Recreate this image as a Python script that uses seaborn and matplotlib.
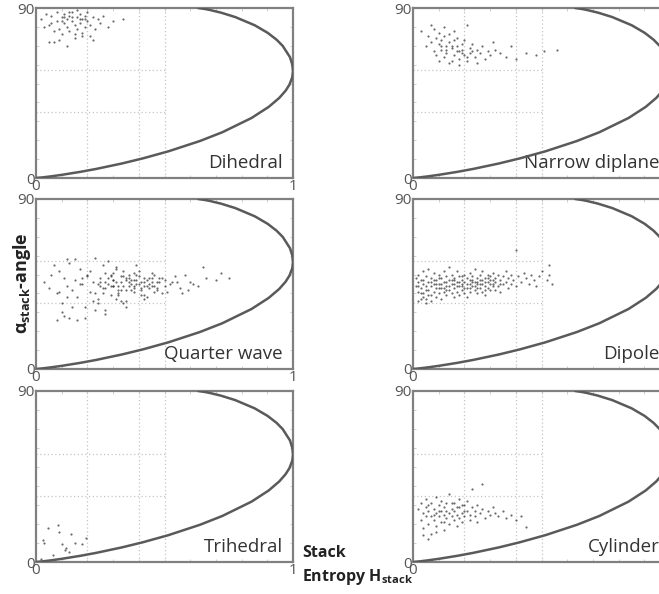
import numpy as np
import pandas as pd
import matplotlib
matplotlib.use("Agg")
import matplotlib.pyplot as plt
import seaborn as sns

sns.set_style("white")
plt.rcParams["font.family"] = ["Open Sans", "DejaVu Sans"]
plt.rcParams["mathtext.fontset"] = "custom"
plt.rcParams["mathtext.rm"] = "Open Sans:bold"
plt.rcParams["mathtext.it"] = "Open Sans:bold"
plt.rcParams["mathtext.bf"] = "Open Sans:bold"

# H-alpha feasibility boundary
curve_h = [0.0, 0.0262, 0.0568, 0.1002, 0.1727, 0.2337, 0.3347, 0.4165, 0.5153, 0.6373,
           0.7248, 0.8388, 0.9057, 0.9464, 0.9713, 0.9863, 0.9973, 1.0, 0.9974, 0.9883,
           0.9602, 0.9359, 0.9011, 0.8509, 0.7752, 0.7199, 0.6752, 0.6563, 0.6309]
curve_alpha = [0, 0.34, 0.85, 1.67, 3.26, 4.79, 7.70, 10.41, 14.13, 19.56,
               24.21, 31.78, 37.67, 42.38, 46.23, 49.44, 53.37, 56.5, 60.03, 63.95,
               69.9, 73.25, 76.89, 80.87, 85.21, 87.54, 89.01, 89.5, 90.0]

# zone lines
grid_h = [0.2, 0.4, 0.5]
grid_alpha = [35, 57]

dihedral = [(0.02, 84), (0.04, 87), (0.05, 81), (0.06, 86), (0.07, 72), (0.08, 83), (0.08, 88),
            (0.09, 79), (0.10, 85), (0.10, 76), (0.11, 82), (0.11, 87), (0.12, 80), (0.12, 84),
            (0.13, 86), (0.13, 78), (0.14, 83), (0.14, 88), (0.15, 81), (0.15, 76), (0.16, 85),
            (0.16, 79), (0.17, 87), (0.17, 82), (0.18, 84), (0.18, 77), (0.19, 86), (0.19, 80),
            (0.20, 83), (0.20, 88), (0.21, 81), (0.21, 75), (0.22, 85), (0.23, 79), (0.24, 84),
            (0.25, 82), (0.26, 86), (0.28, 80), (0.30, 83), (0.34, 84), (0.05, 72), (0.09, 73),
            (0.12, 70), (0.15, 74), (0.18, 75), (0.22, 73), (0.13, 88), (0.07, 78), (0.16, 89),
            (0.11, 85), (0.03, 80), (0.14, 85), (0.17, 84), (0.10, 83), (0.19, 84), (0.06, 82)]

narrow_diplane = [(0.03, 78), (0.05, 70), (0.06, 75), (0.07, 72), (0.08, 79), (0.08, 67),
                  (0.09, 74), (0.09, 65), (0.10, 71), (0.10, 77), (0.11, 68), (0.11, 73),
                  (0.12, 75), (0.12, 64), (0.13, 70), (0.13, 66), (0.14, 72), (0.14, 76),
                  (0.15, 62), (0.15, 69), (0.16, 73), (0.16, 65), (0.17, 70), (0.17, 74),
                  (0.18, 67), (0.18, 63), (0.19, 71), (0.19, 68), (0.20, 65), (0.20, 73),
                  (0.21, 81), (0.21, 62), (0.22, 69), (0.22, 66), (0.23, 71), (0.24, 64),
                  (0.25, 68), (0.26, 66), (0.27, 70), (0.28, 63), (0.29, 67), (0.30, 65),
                  (0.31, 72), (0.32, 68), (0.34, 66), (0.36, 64), (0.38, 70), (0.40, 63),
                  (0.44, 66), (0.48, 65), (0.51, 67), (0.56, 68), (0.10, 62), (0.14, 61),
                  (0.18, 60), (0.21, 64), (0.25, 61), (0.12, 80), (0.16, 78), (0.07, 81),
                  (0.13, 68), (0.15, 70), (0.17, 67), (0.19, 66), (0.11, 70), (0.23, 67)]

quarter_wave = [(0.03, 46), (0.05, 43), (0.06, 50), (0.08, 40), (0.09, 52), (0.10, 35), (0.11, 48),
                (0.12, 44), (0.13, 56), (0.14, 42), (0.15, 47), (0.16, 38), (0.17, 53), (0.18, 45),
                (0.19, 33), (0.20, 50), (0.21, 41), (0.22, 46), (0.23, 59), (0.24, 37), (0.25, 48),
                (0.26, 43), (0.27, 51), (0.28, 45), (0.29, 39), (0.30, 47), (0.31, 54), (0.32, 42),
                (0.33, 49), (0.34, 44), (0.35, 36), (0.36, 50), (0.37, 45), (0.38, 41), (0.39, 47),
                (0.40, 52), (0.41, 43), (0.42, 46), (0.43, 38), (0.44, 48), (0.45, 44), (0.46, 50),
                (0.47, 42), (0.48, 46), (0.49, 40), (0.50, 47), (0.52, 45), (0.54, 49), (0.56, 43),
                (0.58, 50), (0.60, 46), (0.63, 44), (0.66, 48), (0.70, 47), (0.75, 48),
                (0.07, 55), (0.10, 30), (0.12, 38), (0.15, 58), (0.17, 45), (0.19, 27), (0.21, 52),
                (0.23, 40), (0.25, 44), (0.27, 31), (0.29, 49), (0.31, 53), (0.33, 36), (0.35, 47),
                (0.37, 42), (0.39, 55), (0.41, 39), (0.43, 44), (0.45, 51), (0.47, 43), (0.49, 48),
                (0.51, 41), (0.55, 46), (0.59, 42),
                (0.13, 27), (0.16, 26), (0.20, 49), (0.24, 35), (0.28, 57), (0.30, 44), (0.32, 40),
                (0.34, 52), (0.36, 46), (0.38, 43), (0.40, 49), (0.42, 37), (0.44, 45), (0.46, 41),
                (0.48, 48), (0.50, 44), (0.53, 46), (0.57, 40), (0.61, 45),
                (0.09, 41), (0.12, 58), (0.14, 33), (0.18, 48), (0.22, 36), (0.26, 55), (0.30, 47),
                (0.34, 35), (0.38, 51), (0.42, 39), (0.46, 44), (0.35, 33), (0.31, 37), (0.27, 29),
                (0.23, 31),
                (0.33, 46), (0.36, 44), (0.39, 45), (0.42, 48), (0.45, 46), (0.30, 44), (0.27, 46),
                (0.24, 45), (0.35, 48), (0.38, 47), (0.41, 42), (0.44, 43), (0.29, 50), (0.32, 39),
                (0.26, 40), (0.08, 26), (0.11, 28), (0.65, 54), (0.72, 51),
                (0.28, 48), (0.31, 46), (0.34, 49), (0.37, 47), (0.40, 45), (0.43, 47), (0.32, 44),
                (0.35, 42), (0.38, 44), (0.41, 46), (0.29, 44), (0.33, 42), (0.36, 48), (0.39, 50),
                (0.42, 44), (0.45, 48), (0.47, 46), (0.25, 46), (0.27, 43), (0.30, 51)]

dipole = [(0.01, 44), (0.01, 48), (0.02, 41), (0.02, 46), (0.02, 50), (0.03, 37), (0.03, 43),
          (0.03, 47), (0.04, 52), (0.04, 40), (0.04, 45), (0.05, 35), (0.05, 49), (0.05, 42),
          (0.06, 46), (0.06, 39), (0.06, 53), (0.07, 44), (0.07, 36), (0.07, 48), (0.08, 41),
          (0.08, 51), (0.08, 45), (0.09, 38), (0.09, 47), (0.09, 43), (0.10, 50), (0.10, 40),
          (0.10, 45), (0.11, 37), (0.11, 48), (0.11, 43), (0.12, 52), (0.12, 46), (0.12, 41),
          (0.13, 39), (0.13, 44), (0.13, 49), (0.14, 42), (0.14, 47), (0.14, 54), (0.15, 40),
          (0.15, 45), (0.15, 50), (0.16, 38), (0.16, 43), (0.16, 48), (0.17, 46), (0.17, 41),
          (0.17, 52), (0.18, 44), (0.18, 39), (0.18, 49), (0.19, 47), (0.19, 42), (0.19, 45),
          (0.20, 50), (0.20, 40), (0.20, 46), (0.21, 43), (0.21, 48), (0.21, 38), (0.22, 45),
          (0.22, 51), (0.22, 41), (0.23, 47), (0.23, 44), (0.23, 49), (0.24, 42), (0.24, 46),
          (0.24, 53), (0.25, 40), (0.25, 45), (0.25, 48), (0.26, 43), (0.26, 50), (0.26, 47),
          (0.27, 41), (0.27, 45), (0.27, 52), (0.28, 44), (0.28, 48), (0.28, 39), (0.29, 46),
          (0.29, 50), (0.29, 43), (0.30, 47), (0.30, 42), (0.30, 49), (0.31, 45), (0.31, 51),
          (0.31, 44), (0.32, 48), (0.32, 42), (0.32, 46), (0.33, 50), (0.33, 44), (0.34, 47),
          (0.34, 41), (0.35, 49), (0.35, 45), (0.36, 52), (0.36, 46), (0.37, 43), (0.37, 48),
          (0.38, 50), (0.38, 45), (0.39, 47), (0.40, 44), (0.40, 63), (0.41, 49), (0.42, 46),
          (0.43, 51), (0.44, 48), (0.45, 45), (0.46, 50), (0.47, 47), (0.48, 44), (0.49, 49),
          (0.50, 52), (0.52, 47), (0.53, 50), (0.54, 45), (0.53, 55),
          (0.05, 44), (0.08, 47), (0.11, 45), (0.14, 44), (0.17, 44), (0.20, 43), (0.23, 46),
          (0.26, 45), (0.29, 48), (0.12, 43), (0.15, 47), (0.18, 46), (0.21, 45), (0.24, 44),
          (0.27, 47), (0.30, 45), (0.06, 42), (0.09, 45), (0.10, 48), (0.13, 46), (0.16, 45),
          (0.19, 44), (0.22, 47), (0.25, 43), (0.28, 46), (0.03, 40), (0.04, 38), (0.07, 39),
          (0.02, 36), (0.05, 37), (0.04, 47), (0.07, 46), (0.10, 43), (0.13, 42), (0.16, 47),
          (0.19, 49), (0.22, 43), (0.25, 46), (0.28, 42), (0.31, 47), (0.34, 45), (0.02, 44)]

trihedral = [(0.047, 18), (0.086, 19.5), (0.09, 16), (0.136, 15), (0.027, 11.6), (0.03, 10),
             (0.10, 9.5), (0.117, 7.4), (0.15, 10), (0.18, 9.5), (0.195, 12.6), (0.066, 3.7),
             (0.13, 5.3), (0.113, 6.4), (0.02, 1.5)]

cylinder = [(0.02, 28), (0.03, 31), (0.03, 22), (0.04, 26), (0.04, 18), (0.05, 33), (0.05, 24),
            (0.05, 29), (0.06, 20), (0.06, 27), (0.07, 31), (0.07, 15), (0.07, 24), (0.08, 28),
            (0.08, 22), (0.09, 34), (0.09, 26), (0.09, 19), (0.10, 30), (0.10, 24), (0.11, 27),
            (0.11, 21), (0.11, 32), (0.12, 25), (0.12, 17), (0.12, 29), (0.13, 23), (0.13, 31),
            (0.14, 26), (0.14, 20), (0.14, 36), (0.15, 28), (0.15, 24), (0.16, 31), (0.16, 22),
            (0.16, 27), (0.17, 25), (0.17, 19), (0.18, 29), (0.18, 33), (0.18, 23), (0.19, 26),
            (0.19, 21), (0.20, 30), (0.20, 24), (0.21, 27), (0.21, 32), (0.22, 22), (0.22, 25),
            (0.23, 29), (0.23, 38.6), (0.24, 24), (0.24, 27), (0.25, 21), (0.25, 30), (0.26, 26),
            (0.27, 41), (0.27, 28), (0.28, 23), (0.29, 27), (0.30, 25), (0.31, 29), (0.32, 26),
            (0.33, 24), (0.35, 27), (0.36, 23), (0.38, 25), (0.40, 22), (0.42, 24), (0.44, 18.5),
            (0.06, 30), (0.10, 27), (0.13, 27), (0.15, 31), (0.17, 29), (0.19, 30), (0.08, 25),
            (0.12, 21), (0.20, 27), (0.04, 14), (0.06, 12), (0.09, 16)]

panels = [("Dihedral", dihedral), ("Narrow diplane", narrow_diplane),
          ("Quarter wave", quarter_wave), ("Dipole", dipole),
          ("Trihedral", trihedral), ("Cylinder", cylinder)]

W, H = 659, 594
fig = plt.figure(figsize=(W / 100, H / 100), dpi=100)

col_left = [36, 413]
row_top_bottom = [(8, 178), (199, 369), (391, 562)]
ax_w = 257

for i, (name, pts) in enumerate(panels):
    r, c = divmod(i, 2)
    top, bot = row_top_bottom[r]
    ax = fig.add_axes([col_left[c] / W, 1 - bot / H, ax_w / W, (bot - top) / H])

    for g in grid_h:
        ax.axvline(g, color="#c4c4c4", lw=0.9, ls=(0, (1, 2)), zorder=0)
    for g in grid_alpha:
        ax.hlines(g, 0, 0.5, color="#c4c4c4", lw=0.9, ls=(0, (1, 2)), zorder=0)

    df = pd.DataFrame(pts, columns=["H", "alpha"])
    sns.scatterplot(data=df, x="H", y="alpha", ax=ax, marker=".", s=10,
                    color="#3a3a3a", edgecolor=None, linewidth=0, alpha=0.75, zorder=3)
    ax.plot(curve_h, curve_alpha, color="#5a5a5a", lw=1.8, zorder=4,
            solid_joinstyle="round")

    ax.set_xlim(0, 1)
    ax.set_ylim(0, 90)
    ax.set_xticks([0, 1])
    ax.set_xticklabels(["0", "1"])
    ax.set_yticks([0, 90])
    ax.set_yticklabels(["0", "90"])
    ax.set_xticks(np.arange(0.1, 1.0, 0.1), minor=True)
    ax.set_yticks(np.arange(10, 90, 10), minor=True)
    ax.tick_params(which="major", length=0, pad=1, labelsize=11, labelcolor="#555")
    ax.tick_params(which="minor", direction="in", length=2, width=0.6, color="#c8c8c8",
                   top=True, right=True, bottom=True, left=True)
    ax.set_xlabel("")
    ax.set_ylabel("")
    for s in ax.spines.values():
        s.set_color("#808080")
        s.set_linewidth(1.6)

    ax.text(0.96, 0.035, name, transform=ax.transAxes, ha="right", va="bottom",
            fontsize=13.5, color="#333")

fig.text(22 / W, 1 - 283 / H, r"$\alpha_{stack}$-angle", rotation=90, ha="center",
         va="center", fontsize=13, fontweight="bold", color="#222")
fig.text(302 / W, 1 - 553 / H, "Stack", ha="left", va="center",
         fontsize=11.5, fontweight="bold", color="#222")
fig.text(302 / W, 1 - 577 / H, r"Entropy H$_{stack}$", ha="left", va="center",
         fontsize=11.5, fontweight="bold", color="#222")

fig.savefig("out.png", dpi=100)
